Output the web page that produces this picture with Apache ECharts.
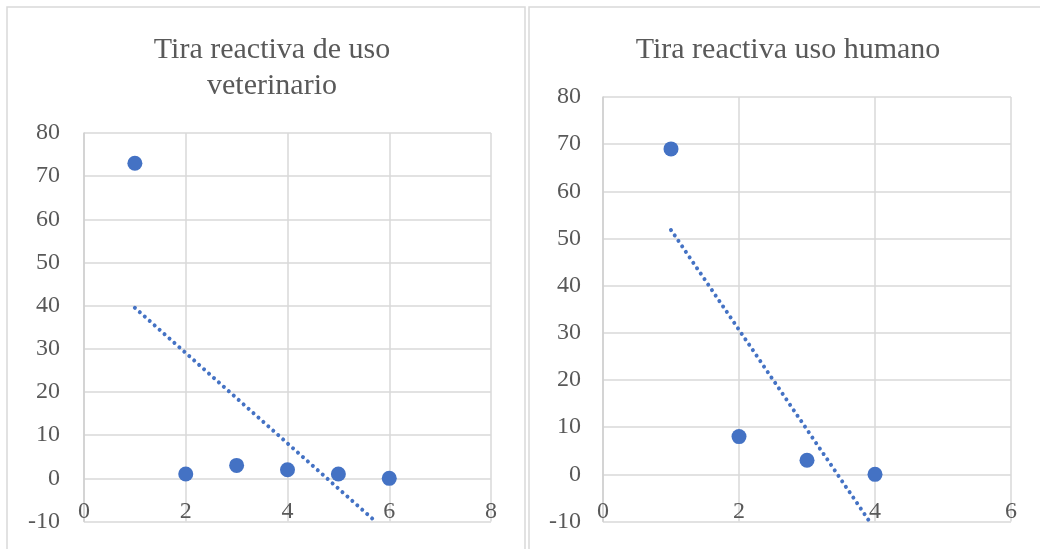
<!DOCTYPE html>
<html>
<head>
<meta charset="utf-8">
<script src="https://cdn.jsdelivr.net/npm/echarts@6/dist/echarts.min.js"></script>
<style>
  html, body { margin: 0; padding: 0; background: #ffffff; }
  #chart { width: 1040px; height: 549px; }
</style>
</head>
<body>
<div id="chart"></div>
<script>
// ---- Data ----
const titleVet = 'Tira reactiva de uso\nveterinario';
const titleHum = 'Tira reactiva uso humano';

const vetX = [1, 2, 3, 4, 5, 6];
const vetY = [73, 1, 3, 2, 1, 0];
// linear trendline end points
const vetTrendX = [1, 5.73];
const vetTrendY = [39.5, -10];

const humX = [1, 2, 3, 4];
const humY = [69, 8, 3, 0];
const humTrendX = [1, 3.92];
const humTrendY = [51.8, -10];

const yTicks = { min: -10, max: 80, interval: 10 };
const vetXTicks = { min: 0, max: 8, interval: 2 };
const humXTicks = { min: 0, max: 6, interval: 2 };

// ---- Styles ----
const FONT = 'Liberation Serif, Times New Roman, serif';
const TEXT = '#595959';
const GRID = '#d9d9d9';
const BLUE = '#4472C4';

function pairs(xs, ys) { return xs.map((x, i) => [x, ys[i]]); }

function xAxisFor(idx, t) {
  return {
    type: 'value', gridIndex: idx, min: t.min, max: t.max, interval: t.interval,
    position: 'bottom',
    axisLine: { show: false, onZero: false },
    axisTick: { show: false },
    axisLabel: { color: TEXT, fontFamily: FONT, fontSize: 24, margin: -22 },
    splitLine: { show: true, lineStyle: { color: GRID, width: 1.5 } }
  };
}
function yAxisFor(idx, margin) {
  return {
    type: 'value', gridIndex: idx, min: yTicks.min, max: yTicks.max, interval: yTicks.interval,
    axisLine: { show: true, onZero: false, lineStyle: { color: '#cfcfcf', width: 1.5 } },
    axisTick: { show: false },
    axisLabel: { color: TEXT, fontFamily: FONT, fontSize: 24, margin: margin },
    splitLine: { show: true, lineStyle: { color: GRID, width: 1.5 } }
  };
}
function trendSeries(idx, xs, ys) {
  return {
    type: 'line', xAxisIndex: idx, yAxisIndex: idx, data: pairs(xs, ys),
    showSymbol: false, symbol: 'none', silent: true, z: 1,
    lineStyle: { color: BLUE, width: 4, type: [0.01, 6.6], cap: 'round' }
  };
}
function scatterSeries(idx, xs, ys) {
  return {
    type: 'scatter', xAxisIndex: idx, yAxisIndex: idx, data: pairs(xs, ys),
    symbol: 'circle', symbolSize: 15, z: 3,
    itemStyle: { color: BLUE, opacity: 1 }
  };
}

const chart = echarts.init(document.getElementById('chart'), null, { renderer: 'canvas' });
chart.setOption({
  backgroundColor: '#ffffff',
  animation: false,
  graphic: [
    { type: 'rect', shape: { x: 7, y: 7, width: 518, height: 560 },
      style: { fill: 'none', stroke: '#d9d9d9', lineWidth: 1.5 }, silent: true, z: -10 },
    { type: 'rect', shape: { x: 529, y: 7, width: 520, height: 560 },
      style: { fill: 'none', stroke: '#d9d9d9', lineWidth: 1.5 }, silent: true, z: -10 }
  ],
  title: [
    { text: titleVet, left: 267, top: 27, textAlign: 'center',
      textStyle: { color: TEXT, fontFamily: FONT, fontSize: 30, fontWeight: 'normal', lineHeight: 36 } },
    { text: titleHum, left: 783, top: 27, textAlign: 'center',
      textStyle: { color: TEXT, fontFamily: FONT, fontSize: 30, fontWeight: 'normal', lineHeight: 36 } }
  ],
  grid: [
    { left: 84, right: 1040 - 491, top: 133, bottom: 549 - 521.5, containLabel: false, outerBoundsMode: 'none' },
    { left: 603, right: 1040 - 1011, top: 97, bottom: 549 - 521.5, containLabel: false, outerBoundsMode: 'none' }
  ],
  xAxis: [xAxisFor(0, vetXTicks), xAxisFor(1, humXTicks)],
  yAxis: [yAxisFor(0, 24), yAxisFor(1, 22)],
  series: [
    trendSeries(0, vetTrendX, vetTrendY),
    scatterSeries(0, vetX, vetY),
    trendSeries(1, humTrendX, humTrendY),
    scatterSeries(1, humX, humY)
  ]
});
</script>
</body>
</html>
